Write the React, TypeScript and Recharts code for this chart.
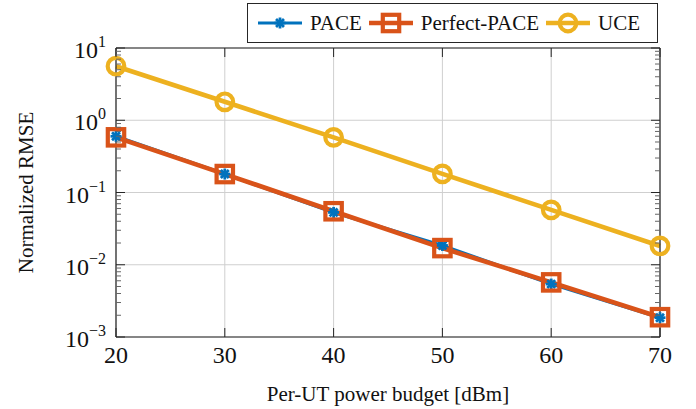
import React from 'react';
import { LineChart, Line, XAxis, YAxis, CartesianGrid } from 'recharts';

const powerBudget = [20, 30, 40, 50, 60, 70];
const pace = [0.6, 0.18, 0.053, 0.0185, 0.0054, 0.00185];
const perfectPace = [0.58, 0.18, 0.055, 0.017, 0.0057, 0.00188];
const uce = [5.6, 1.8, 0.58, 0.181, 0.0575, 0.0182];

const majorY = [0.001, 0.01, 0.1, 1, 10];
const minorY = [0.001, 0.01, 0.1, 1].flatMap((d) => [2, 3, 4, 5, 6, 7, 8, 9].map((m) => +(m * d).toPrecision(3)));
const xTicks = [20, 30, 40, 50, 60, 70];

const BLUE = '#0072BD';
const ORANGE = '#D95319';
const YELLOW = '#EDB120';
const FRAME = '#262626';
const SERIF = '"Liberation Serif", "DejaVu Serif", serif';

const data = powerBudget.map((x, i) => ({ x, pace: pace[i], perfect: perfectPace[i], uce: uce[i] }));

const W = 696;
const H = 409;

const isMajor = (v: number) => majorY.some((m) => Math.abs(m - v) / m < 1e-6);

const LeftTick = (props: any) => {
  const { x, y, payload } = props;
  const v = payload.value;
  const major = isMajor(v);
  const exp = Math.round(Math.log10(v));
  return (
    <g>
      <line x1={x} x2={x + (major ? 9 : 5)} y1={y} y2={y} stroke={major ? FRAME : '#666'} strokeWidth={1} />
      {major && (
        <text x={x - 10} y={y + 10} textAnchor="end" fontFamily={SERIF} fontSize={24} fill="#111">
          10
          <tspan dy={-11} fontSize={16}>{exp < 0 ? '\u2212' + Math.abs(exp) : String(exp)}</tspan>
        </text>
      )}
    </g>
  );
};

const RightTick = (props: any) => {
  const { x, y, payload } = props;
  const major = isMajor(payload.value);
  return <line x1={x} x2={x - (major ? 9 : 5)} y1={y} y2={y} stroke={major ? FRAME : '#666'} strokeWidth={1} />;
};

const BottomTick = (props: any) => {
  const { x, y, payload } = props;
  return (
    <g>
      <line x1={x} x2={x} y1={y} y2={y - 9} stroke={FRAME} strokeWidth={1} />
      <text x={x} y={y + 26} textAnchor="middle" fontFamily={SERIF} fontSize={24} fill="#111">
        {payload.value}
      </text>
    </g>
  );
};

const TopTick = (props: any) => {
  const { x, y } = props;
  return <line x1={x} x2={x} y1={y} y2={y + 9} stroke={FRAME} strokeWidth={1} />;
};

const AsteriskDot = (props: any) => {
  const { cx, cy } = props;
  if (cx == null || cy == null) return null;
  const r = 5.5;
  const d = r * 0.72;
  return (
    <g stroke={BLUE} strokeWidth={2.8}>
      <line x1={cx - r} x2={cx + r} y1={cy} y2={cy} />
      <line x1={cx} x2={cx} y1={cy - r} y2={cy + r} />
      <line x1={cx - d} x2={cx + d} y1={cy - d} y2={cy + d} />
      <line x1={cx - d} x2={cx + d} y1={cy + d} y2={cy - d} />
    </g>
  );
};

const SquareDot = (props: any) => {
  const { cx, cy } = props;
  if (cx == null || cy == null) return null;
  const s = 8.2;
  return <rect x={cx - s} y={cy - s} width={2 * s} height={2 * s} fill="none" stroke={ORANGE} strokeWidth={4.2} />;
};

const CircleDot = (props: any) => {
  const { cx, cy } = props;
  if (cx == null || cy == null) return null;
  return <circle cx={cx} cy={cy} r={8.3} fill="none" stroke={YELLOW} strokeWidth={4.2} />;
};

const series = [
  { key: 'pace', name: 'PACE', color: BLUE, width: 3.2, dot: AsteriskDot },
  { key: 'perfect', name: 'Perfect-PACE', color: ORANGE, width: 4.6, dot: SquareDot },
  { key: 'uce', name: 'UCE', color: YELLOW, width: 4.6, dot: CircleDot },
];

function LegendIcon({ s }: { s: (typeof series)[number] }) {
  const Dot = s.dot;
  return (
    <svg width={48} height={24} style={{ display: 'block' }}>
      <line x1={2} x2={46} y1={12} y2={12} stroke={s.color} strokeWidth={s.width} />
      <Dot cx={24} cy={12} />
    </svg>
  );
}

export default function App() {
  return (
    <div style={{ position: 'absolute', left: 0, top: 0, width: W, height: H, background: '#fff' }}>
      <LineChart width={W} height={H} data={data} margin={{ top: 47, right: 35, left: 0, bottom: 0 }}>
        <CartesianGrid
          xAxisId="b"
          yAxisId="L"
          stroke="#cfcfcf"
          strokeWidth={1}
          horizontalValues={majorY}
          verticalValues={xTicks}
        />
        <XAxis
          xAxisId="b"
          dataKey="x"
          type="number"
          domain={[20, 70]}
          ticks={xTicks}
          interval={0}
          height={72}
          tickSize={0}
          tickMargin={0}
          tickLine={false}
          axisLine={{ stroke: FRAME, strokeWidth: 1.2 }}
          tick={<BottomTick />}
          label={{
            content: (p: any) => {
              const vb = p.viewBox;
              return (
                <text x={vb.x + vb.width / 2} y={vb.y + 64} textAnchor="middle" fontFamily={SERIF} fontSize={21} fill="#111">
                  Per-UT power budget [dBm]
                </text>
              );
            },
          }}
        />
        <XAxis
          xAxisId="t"
          orientation="top"
          dataKey="x"
          type="number"
          domain={[20, 70]}
          ticks={xTicks}
          interval={0}
          height={1}
          tickSize={0}
          tickMargin={0}
          tickLine={false}
          axisLine={{ stroke: FRAME, strokeWidth: 1.2 }}
          tick={<TopTick />}
        />
        <YAxis
          yAxisId="L"
          scale="log"
          type="number"
          domain={[0.001, 10]}
          allowDataOverflow
          ticks={[...majorY, ...minorY]}
          interval={0}
          width={116}
          tickSize={0}
          tickMargin={0}
          tickLine={false}
          axisLine={{ stroke: FRAME, strokeWidth: 1.2 }}
          tick={<LeftTick />}
          label={{
            content: (p: any) => {
              const vb = p.viewBox;
              const cx = 26;
              const cy = vb.y + vb.height / 2;
              return (
                <text x={cx} y={cy} transform={`rotate(-90 ${cx} ${cy})`} textAnchor="middle" dominantBaseline="central" fontFamily={SERIF} fontSize={21} fill="#111">
                  Normalized RMSE
                </text>
              );
            },
          }}
        />
        <YAxis
          yAxisId="R"
          orientation="right"
          scale="log"
          type="number"
          domain={[0.001, 10]}
          allowDataOverflow
          ticks={[...majorY, ...minorY]}
          interval={0}
          width={1}
          tickSize={0}
          tickMargin={0}
          tickLine={false}
          axisLine={{ stroke: FRAME, strokeWidth: 1.2 }}
          tick={<RightTick />}
        />
        {series.map((s) => {
          const Dot = s.dot;
          return (
            <Line
              key={s.key}
              xAxisId="b"
              yAxisId="L"
              dataKey={s.key}
              name={s.name}
              stroke={s.color}
              strokeWidth={s.width}
              dot={<Dot />}
              activeDot={false}
              isAnimationActive={false}
            />
          );
        })}
      </LineChart>
      <div
        style={{
          position: 'absolute',
          left: 247,
          top: 3,
          width: 411,
          height: 40,
          border: `1px solid ${FRAME}`,
          background: '#fff',
          display: 'flex',
          alignItems: 'center',
          paddingLeft: 8,
          boxSizing: 'border-box',
          fontFamily: SERIF,
          fontSize: 21,
          color: '#111',
        }}
      >
        {series.map((s) => (
          <div key={s.key} style={{ display: 'flex', alignItems: 'center', marginRight: 5 }}>
            <LegendIcon s={s} />
            <span style={{ marginLeft: 6 }}>{s.name}</span>
          </div>
        ))}
      </div>
    </div>
  );
}
